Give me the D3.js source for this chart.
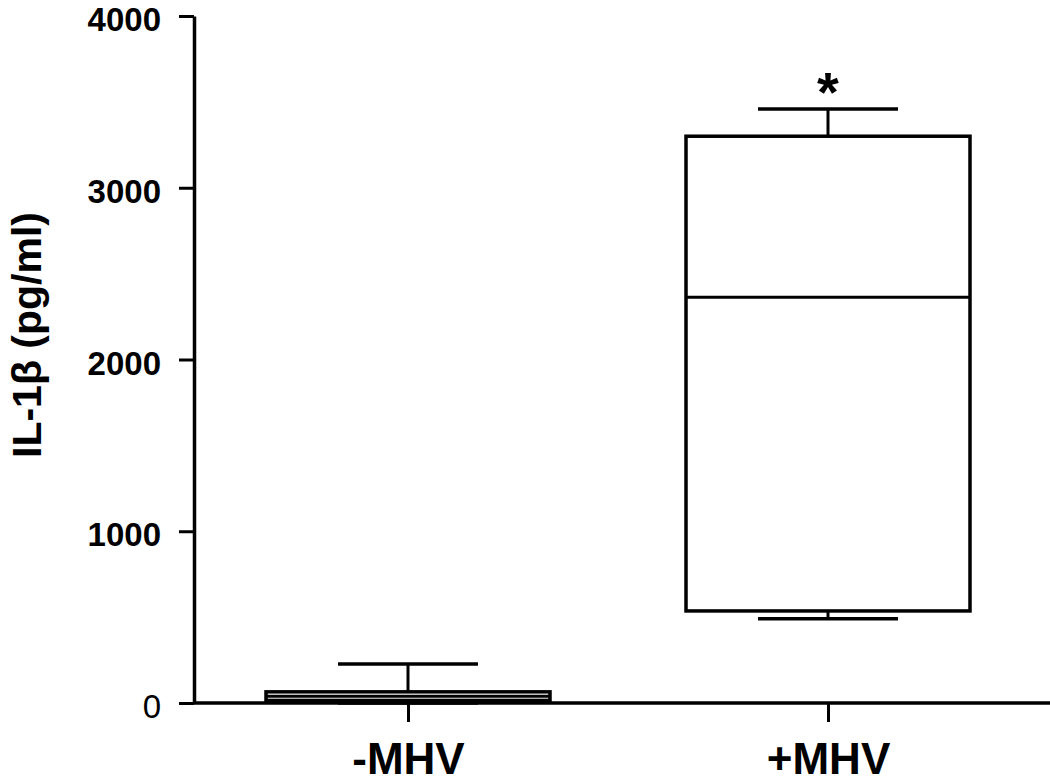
<!DOCTYPE html>
<html>
<head>
<meta charset="utf-8">
<script src="https://d3js.org/d3.v7.min.js"></script>
<style>
	body { margin: 0; background: #fff; }
	text { font-family: "Liberation Sans", Arial, sans-serif; fill: #000; }
</style>
</head>
<body>
<svg id="chart" width="1050" height="784"></svg>
<script>
// data
var groups = ["-MHV", "+MHV"];
var whiskerLow = [0, 490];
var q1 = [15, 536];
var medians = [40, 2362];
var q3 = [65, 3300];
var whiskerHigh = [227, 3458];
var marks = ["", "*"];
var yTicks = [0, 1000, 2000, 3000, 4000];

var svg = d3.select("#chart");
var axisX = 194, baseY = 703;

var x = d3.scalePoint()
	.domain(groups)
	.range([198, 1038])
	.padding(0.5);

var y = d3.scaleLinear()
	.domain([0, 4000])
	.range([baseY, 16]);

var boxW = 284, capW = 140;

var rows = groups.map(function (g, i) {
	return { g: g, lo: whiskerLow[i], q1: q1[i], med: medians[i], q3: q3[i], hi: whiskerHigh[i], mark: marks[i] };
});

var boxes = svg.append("g").selectAll("g")
	.data(rows)
	.enter().append("g");

// whiskers
boxes.append("line")
	.attr("x1", function (d) { return x(d.g); })
	.attr("x2", function (d) { return x(d.g); })
	.attr("y1", function (d) { return y(d.hi); })
	.attr("y2", function (d) { return y(d.lo); })
	.attr("stroke", "#000").attr("stroke-width", 3);

boxes.append("rect")
	.attr("x", function (d) { return x(d.g) - boxW / 2; })
	.attr("y", function (d) { return y(d.q3); })
	.attr("width", boxW)
	.attr("height", function (d) { return y(d.q1) - y(d.q3); })
	.attr("fill", "#fff")
	.attr("stroke", "#000").attr("stroke-width", 3.5);

boxes.append("line")
	.attr("x1", function (d) { return x(d.g) - boxW / 2; })
	.attr("x2", function (d) { return x(d.g) + boxW / 2; })
	.attr("y1", function (d) { return y(d.med); })
	.attr("y2", function (d) { return y(d.med); })
	.attr("stroke", "#000").attr("stroke-width", 3);

// caps
["hi", "lo"].forEach(function (k) {
	boxes.append("line")
		.attr("x1", function (d) { return x(d.g) - capW / 2; })
		.attr("x2", function (d) { return x(d.g) + capW / 2; })
		.attr("y1", function (d) { return y(d[k]); })
		.attr("y2", function (d) { return y(d[k]); })
		.attr("stroke", "#000").attr("stroke-width", 3.5);
});

// significance star
boxes.append("text")
	.attr("x", function (d) { return x(d.g); })
	.attr("y", function (d) { return y(d.hi) + 2; })
	.attr("text-anchor", "middle")
	.attr("font-size", 56)
	.attr("font-weight", "bold")
	.text(function (d) { return d.mark; });

// y axis
var yAxis = svg.append("g")
	.attr("transform", "translate(" + axisX + ",0)")
	.call(d3.axisLeft(y).tickValues(yTicks).tickFormat(d3.format("d"))
		.tickSize(15).tickPadding(18).tickSizeOuter(0));
yAxis.select(".domain").attr("stroke-width", 3.5);
yAxis.selectAll(".tick line").attr("stroke-width", 3);
yAxis.selectAll(".tick text")
	.attr("font-size", 33)
	.attr("font-weight", function (d) { return d === 0 ? "normal" : "bold"; })
	.attr("font-family", null)
	.attr("dy", "0.44em");

// x axis line
svg.append("line")
	.attr("x1", axisX).attr("x2", 1050)
	.attr("y1", baseY).attr("y2", baseY)
	.attr("stroke", "#000").attr("stroke-width", 3.5);

var xAxis = svg.append("g")
	.attr("transform", "translate(0," + baseY + ")")
	.call(d3.axisBottom(x).tickSize(19).tickPadding(21).tickSizeOuter(0));
xAxis.select(".domain").remove();
xAxis.selectAll(".tick line").attr("stroke-width", 3);
xAxis.selectAll(".tick text")
	.attr("font-size", 44)
	.attr("font-weight", "bold")
	.attr("font-family", null);

svg.append("text")
	.attr("transform", "translate(41,335) rotate(-90)")
	.attr("text-anchor", "middle")
	.attr("font-size", 41)
	.attr("font-weight", "bold")
	.text("IL-1β (pg/ml)");
</script>
</body>
</html>
